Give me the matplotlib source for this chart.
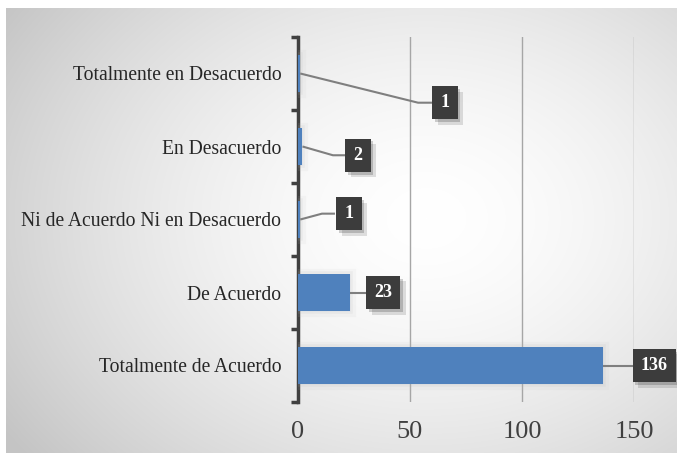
import matplotlib
matplotlib.use("Agg")
import matplotlib.pyplot as plt
import matplotlib.patheffects as pe
import numpy as np

categories = ["Totalmente en Desacuerdo", "En Desacuerdo",
              "Ni de Acuerdo Ni en Desacuerdo", "De Acuerdo",
              "Totalmente de Acuerdo"]
values = [1, 2, 1, 23, 136]
xticks = [0, 50, 100, 150]

# label box centre (x in data units, y offset from bar), leader elbow x, box left edge
label_pos = [(65.6, 0.40), (26.8, 0.12), (22.8, -0.08), (38.0, 0.0), (159.0, 0.0)]
elbow_x = [53.6, 15.6, 10.7, 30.4, 150.4]
box_left = [59.8, 21.0, 16.5, 30.4, 150.4]

W, H = 677, 454
fig = plt.figure(figsize=(W / 100, H / 100), dpi=100)
fig.patch.set_facecolor("white")

# soft radial background
bg = fig.add_axes([6 / W, 1 / H, 1 - 6 / W, 1 - 9 / H], zorder=-10)
yy, xx = np.mgrid[0:445, 0:671]
d = np.sqrt(((xx - 420) / 420.0) ** 2 + ((yy - 210) / 320.0) ** 2)
shade = 1 - 0.17 * d ** 1.6
shade = np.clip(shade, 0.77, 1.0)
bg.imshow(np.dstack([shade] * 3), aspect="auto", interpolation="bilinear")
bg.axis("off")

ax = fig.add_axes([298 / W, 1 - 402 / H, 336 / W, 365 / H])
ax.set_facecolor("none")

y = np.arange(len(categories))
glow = [pe.Stroke(linewidth=8, foreground="#c0c0c0", alpha=0.10),
        pe.Stroke(linewidth=4, foreground="#b0b0b0", alpha=0.12),
        pe.Normal()]
bars = ax.barh(y, values, height=0.5, color="#4f81bd", zorder=3)
for b in bars:
    b.set_path_effects(glow)

ax.set_xlim(0, 150)
ax.set_ylim(len(categories) - 0.5, -0.5)

ax.set_xticks(xticks)
ax.set_xticklabels([str(t) for t in xticks], family="Liberation Serif",
                   fontsize=19, color="#404040")
ax.tick_params(axis="x", length=0, pad=14)
ax.xaxis.grid(True, color="#a6a6a6", linewidth=1.0, zorder=0)
ax.set_axisbelow(True)

ax.set_yticks(y)
ax.set_yticklabels(categories, family="Liberation Serif", fontsize=14.1,
                   color="#262626")
ax.tick_params(axis="y", length=0, pad=12)
ax.set_yticks(np.arange(len(categories) + 1) - 0.5, minor=True)
ax.tick_params(axis="y", which="minor", length=5, width=2.5, color="#404040")

for s in ["top", "right", "bottom"]:
    ax.spines[s].set_visible(False)
ax.spines["left"].set_color("#404040")
ax.spines["left"].set_linewidth(2.5)

for i, v in enumerate(values):
    lx, dy = label_pos[i]
    ly = i + dy
    ax.plot([v, elbow_x[i], box_left[i]], [i, ly, ly], color="#7f7f7f",
            linewidth=1.5, zorder=4, clip_on=False, solid_capstyle="butt")
    t = ax.text(lx, ly, str(v), ha="center", va="center", color="white",
                fontsize=13, fontweight="bold", family="Liberation Serif",
                zorder=6, clip_on=False,
                bbox=dict(boxstyle="square,pad=0.45", facecolor="#3c3c3c",
                          edgecolor="none"))
    t.get_bbox_patch().set_path_effects(
        [pe.SimplePatchShadow(offset=(4, -4), shadow_rgbFace="#000000", alpha=0.12),
         pe.SimplePatchShadow(offset=(2, -2), shadow_rgbFace="#000000", alpha=0.18),
         pe.Normal()])

fig.savefig("out.png", dpi=100)
